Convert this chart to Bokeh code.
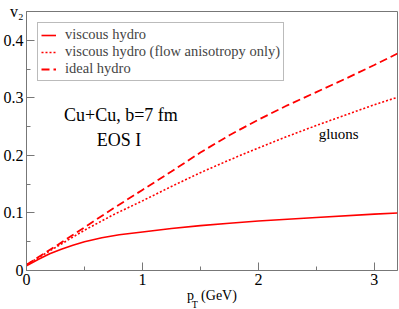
from bokeh.plotting import figure
from bokeh.models import Range1d, FixedTicker, Label, Legend, LegendItem
from bokeh.embed import file_html
from bokeh.resources import INLINE

# data
pt_visc = [0.0, 0.1, 0.2, 0.3, 0.4, 0.5, 0.65, 0.8, 1.0, 1.25, 1.5, 1.75, 2.0, 2.5, 3.0, 3.2]
v2_viscous = [0.008, 0.019, 0.029, 0.037, 0.044, 0.050, 0.057, 0.062, 0.067, 0.073, 0.078, 0.082, 0.086, 0.092, 0.098, 0.100]
pt = [0.0, 0.1, 0.25, 0.5, 0.75, 1.0, 1.25, 1.5, 1.75, 2.0, 2.25, 2.5, 2.75, 3.0, 3.2]
v2_flow = [0.010, 0.022, 0.040, 0.070, 0.097, 0.121, 0.146, 0.170, 0.192, 0.213, 0.233, 0.252, 0.270, 0.288, 0.301]
v2_ideal = [0.010, 0.023, 0.042, 0.075, 0.108, 0.140, 0.172, 0.205, 0.235, 0.262, 0.287, 0.310, 0.333, 0.357, 0.377]
x_ticks = [0, 1, 2, 3]
x_minor = [0.5, 1.5, 2.5]
y_ticks = [0, 0.1, 0.2, 0.3, 0.4]
y_minor = [0.05, 0.15, 0.25, 0.35]
labels = ["viscous hydro", "viscous hydro (flow anisotropy only)", "ideal hydro"]
y_title = "v₂"
x_title_main = "p\u00a0\u00a0(GeV)"   # subscript T drawn separately in the gap
x_title_sub = "T"

FONT = "Liberation Serif"
GRAY = "#777777"
RED = "#ff0000"
Y_TOP = 0.45

p = figure(width=399, height=309, x_range=Range1d(0, 3.2), y_range=Range1d(0, Y_TOP),
           output_backend="svg", toolbar_location=None,
           min_border_left=24, min_border_right=2, min_border_top=8, min_border_bottom=39)
p.grid.visible = False
p.outline_line_color = GRAY
p.outline_line_width = 1
p.background_fill_color = "white"
p.border_fill_color = "white"

for ax in (p.xaxis[0], p.yaxis[0]):
    ax.axis_line_color = GRAY
    ax.major_tick_line_color = GRAY
    ax.minor_tick_line_color = GRAY
    ax.major_tick_in = 8
    ax.major_tick_out = 0
    ax.minor_tick_in = 4
    ax.minor_tick_out = 0
    ax.major_label_text_font = FONT
    ax.major_label_text_font_size = "16px"
    ax.major_label_text_color = "black"
    ax.major_label_standoff = 3

p.xaxis[0].ticker = FixedTicker(ticks=x_ticks, minor_ticks=x_minor)
p.xaxis[0].axis_label = x_title_main
p.xaxis[0].axis_label_text_font = FONT
p.xaxis[0].axis_label_text_font_size = "14px"
p.xaxis[0].axis_label_text_font_style = "normal"
p.xaxis[0].axis_label_text_color = "black"
p.xaxis[0].axis_label_standoff = 0
# the y title sits at the top of the axis, as a label on the frame's top edge
p.yaxis[0].ticker = FixedTicker(ticks=y_ticks + [Y_TOP], minor_ticks=y_minor)
p.yaxis[0].major_label_overrides = {0: "0", Y_TOP: y_title}

r1 = p.line(pt_visc, v2_viscous, line_color=RED, line_width=1.6)
r2 = p.line(pt, v2_flow, line_color=RED, line_width=1.6, line_dash="2 2")
r3 = p.line(pt, v2_ideal, line_color=RED, line_width=1.8, line_dash="8 4")

legend = Legend(items=[LegendItem(label=labels[0], renderers=[r1]),
                       LegendItem(label=labels[1], renderers=[r2]),
                       LegendItem(label=labels[2], renderers=[r3])],
                location="top_left", margin=11, padding=3, spacing=0,
                glyph_height=16, label_height=16, glyph_width=15, label_standoff=9,
                label_text_font=FONT, label_text_font_size="14.5px",
                border_line_color=GRAY, border_line_width=1,
                background_fill_color="white", background_fill_alpha=1.0)
p.add_layout(legend, "center")

def txt(x, y, s, size, align="left", place="center"):
    lab = Label(x=x, y=y, text=s, text_font=FONT, text_font_size=size,
                text_align=align, text_baseline="alphabetic", text_color="black")
    if place == "center":
        p.add_layout(lab)
    else:
        p.add_layout(lab, place)

txt(0.814, 0.271, "Cu+Cu, b=7 fm", "18px", "center")
txt(0.797, 0.226, "EOS I", "18px", "center")
txt(2.52, 0.2366, "gluons", "15px")
# subscript of the x title (side panel, so it is not clipped to the frame)
txt(1.425, -0.0585, x_title_sub, "10px", place="above")

open("out.html", "w").write(file_html(p, INLINE))
